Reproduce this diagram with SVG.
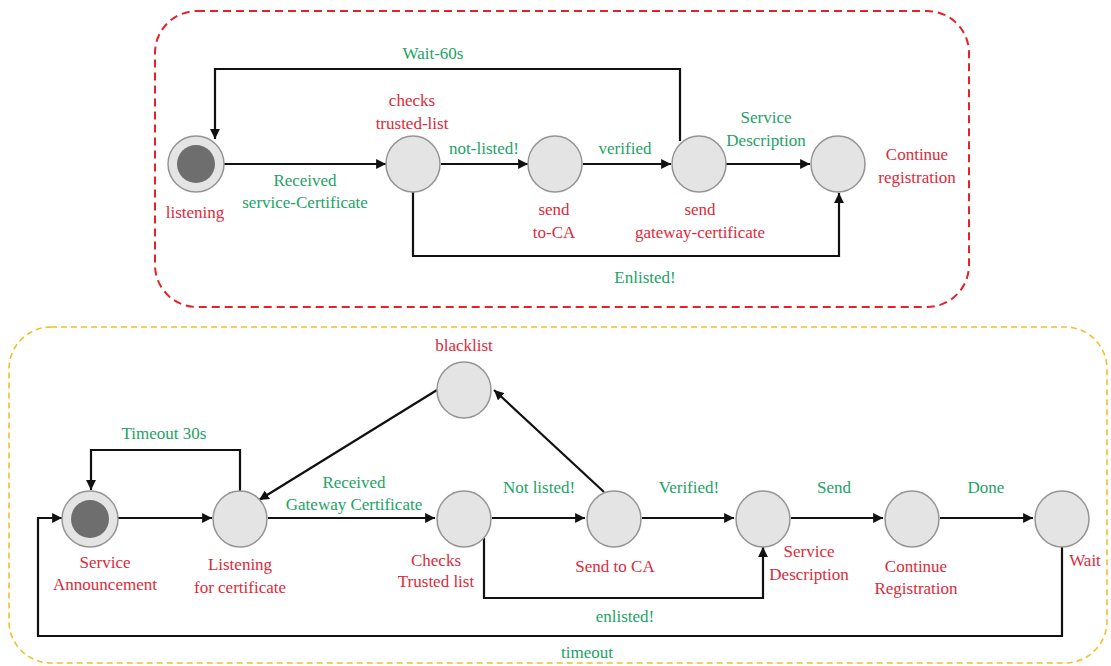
<svg xmlns="http://www.w3.org/2000/svg" width="1111" height="666" viewBox="0 0 1111 666">
<style>
.t{font-family:"Liberation Serif","Times New Roman",serif;font-size:17px;text-anchor:middle}
.r{fill:#dd2a3a}
.g{fill:#23a266}
.n{fill:#e4e4e4;stroke:#959595;stroke-width:1.5}
.in{fill:#6e6e6e;stroke:none}
.c{fill:none;stroke:#111;stroke-width:2.2;marker-end:url(#ah)}
</style>
<defs>
<marker id="ah" viewBox="0 0 10 10" refX="10" refY="5" markerWidth="4.5" markerHeight="4.5" orient="auto" markerUnits="strokeWidth">
<path d="M0,0 L10,5 L0,10 z" fill="#111"/>
</marker>
</defs>
<rect x="0" y="0" width="1111" height="666" fill="#fff"/>
<rect id="box-top" x="155" y="11" width="814" height="296" rx="42" fill="none" stroke="#e8202a" stroke-width="2" stroke-dasharray="8 5"/>
<rect id="box-bottom" x="9" y="327" width="1098" height="336" rx="42" fill="none" stroke="#f0c02a" stroke-width="1.6" stroke-dasharray="6 4"/>

<g id="connectors">
<path class="c" d="M680,141 V69 H215 V139"/>
<path class="c" d="M224,164 H386"/>
<path class="c" d="M441,164 H528"/>
<path class="c" d="M583,164 H671"/>
<path class="c" d="M726,164 H810"/>
<path class="c" d="M413,192 V256 H839 V193"/>
<path class="c" d="M240,492 V450 H91 V490"/>
<path class="c" d="M118,518 H212"/>
<path class="c" d="M268,518 H435"/>
<path class="c" d="M492,518 H585"/>
<path class="c" d="M642,518 H734"/>
<path class="c" d="M791,518 H883"/>
<path class="c" d="M940,518 H1033"/>
<path class="c" d="M484,538 V598 H763 V547"/>
<path class="c" d="M1062,547 V636 H38 V518 H62"/>
<path class="c" d="M437,390 L259,500"/>
<path class="c" d="M604,492 L494,390"/>
</g>

<g id="top-listening">
<circle class="n" cx="196" cy="164" r="28"/>
<circle class="in" cx="196" cy="164" r="19"/>
<text class="t r" x="195" y="218">listening</text>
</g>
<g id="top-checks">
<ellipse class="n" cx="413" cy="164" rx="27" ry="28"/>
<text class="t r" x="412" y="106">checks</text>
<text class="t r" x="412" y="129">trusted-list</text>
</g>
<g id="top-sendca">
<ellipse class="n" cx="555" cy="164" rx="27" ry="28"/>
<text class="t r" x="554" y="215">send</text>
<text class="t r" x="554" y="238">to-CA</text>
</g>
<g id="top-sendgw">
<ellipse class="n" cx="699" cy="164" rx="27" ry="28"/>
<text class="t r" x="700" y="215">send</text>
<text class="t r" x="700" y="238">gateway-certificate</text>
</g>
<g id="top-continue">
<ellipse class="n" cx="838" cy="164" rx="27" ry="28"/>
<text class="t r" x="917" y="160">Continue</text>
<text class="t r" x="917" y="183">registration</text>
</g>
<g id="top-labels">
<text class="t g" x="433" y="59">Wait-60s</text>
<text class="t g" x="305" y="186">Received</text>
<text class="t g" x="305" y="208">service-Certificate</text>
<text class="t g" x="484" y="154">not-listed!</text>
<text class="t g" x="625" y="154">verified</text>
<text class="t g" x="766" y="123">Service</text>
<text class="t g" x="766" y="146">Description</text>
<text class="t g" x="645" y="283">Enlisted!</text>
</g>

<g id="bot-announce">
<circle class="n" cx="90" cy="519" r="28"/>
<circle class="in" cx="90" cy="519" r="19"/>
<text class="t r" x="105" y="568">Service</text>
<text class="t r" x="105" y="590">Announcement</text>
</g>
<g id="bot-listening">
<ellipse class="n" cx="240" cy="519" rx="27" ry="28"/>
<text class="t r" x="240" y="570">Listening</text>
<text class="t r" x="240" y="593">for certificate</text>
</g>
<g id="bot-blacklist">
<ellipse class="n" cx="464" cy="390" rx="27" ry="28"/>
<text class="t r" x="464" y="351">blacklist</text>
</g>
<g id="bot-checks">
<ellipse class="n" cx="464" cy="519" rx="27" ry="28"/>
<text class="t r" x="436" y="566">Checks</text>
<text class="t r" x="436" y="587">Trusted list</text>
</g>
<g id="bot-sendca">
<ellipse class="n" cx="614" cy="519" rx="27" ry="28"/>
<text class="t r" x="615" y="572">Send to CA</text>
</g>
<g id="bot-servdesc">
<ellipse class="n" cx="763" cy="519" rx="27" ry="28"/>
<text class="t r" x="809" y="557">Service</text>
<text class="t r" x="809" y="580">Description</text>
</g>
<g id="bot-continue">
<ellipse class="n" cx="912" cy="519" rx="27" ry="28"/>
<text class="t r" x="916" y="572">Continue</text>
<text class="t r" x="916" y="594">Registration</text>
</g>
<g id="bot-wait">
<ellipse class="n" cx="1062" cy="519" rx="27" ry="28"/>
<text class="t r" x="1085" y="566">Wait</text>
</g>
<g id="bot-labels">
<text class="t g" x="164" y="439">Timeout 30s</text>
<text class="t g" x="354" y="488">Received</text>
<text class="t g" x="354" y="510">Gateway Certificate</text>
<text class="t g" x="539" y="493">Not listed!</text>
<text class="t g" x="689" y="493">Verified!</text>
<text class="t g" x="834" y="493">Send</text>
<text class="t g" x="986" y="493">Done</text>
<text class="t g" x="625" y="622">enlisted!</text>
<text class="t g" x="587" y="658">timeout</text>
</g>
</svg>
